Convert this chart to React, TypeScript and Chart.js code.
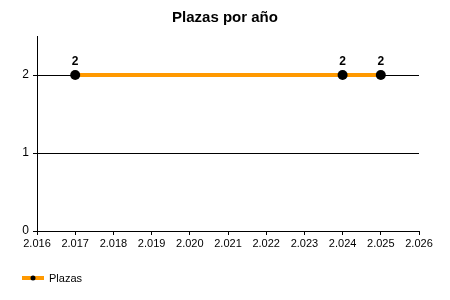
import React, { useEffect, useRef } from "react";
import { Chart, registerables } from "chart.js";

Chart.register(...registerables);

const title = "Plazas por año";
const seriesName = "Plazas";
const years = [2017, 2024, 2025];
const plazas = [2, 2, 2];
const xMin = 2016;
const xMax = 2026;
const yMax = 2.5;
const yTicks = [0, 1, 2];

const FONT = "'Liberation Sans', Arial, sans-serif";
const ORANGE = "#FF9900";

const overlayPlugin = {
  id: "overlay",
  afterDatasetsDraw(chart: any) {
    const ctx = chart.ctx;
    const meta = chart.getDatasetMeta(0);
    ctx.save();
    ctx.fillStyle = "#000";
    ctx.font = `bold 12px ${FONT}`;
    ctx.textAlign = "center";
    ctx.textBaseline = "alphabetic";
    meta.data.forEach((pt: any, i: number) => {
      ctx.fillText(String(chart.data.datasets[0].data[i].y), pt.x, pt.y - 10);
    });
    ctx.restore();
  },
  afterDraw(chart: any) {
    const ctx = chart.ctx;
    ctx.save();
    // title
    ctx.fillStyle = "#000";
    ctx.font = `bold 15px ${FONT}`;
    ctx.textAlign = "center";
    ctx.textBaseline = "middle";
    ctx.fillText(title, 225, 18);
    // legend
    const ly = 278;
    ctx.strokeStyle = ORANGE;
    ctx.lineWidth = 4;
    ctx.beginPath();
    ctx.moveTo(22, ly);
    ctx.lineTo(44, ly);
    ctx.stroke();
    ctx.fillStyle = "#000";
    ctx.beginPath();
    ctx.arc(33, ly, 2.5, 0, Math.PI * 2);
    ctx.fill();
    ctx.font = `11px ${FONT}`;
    ctx.textAlign = "left";
    ctx.fillText(chart.data.datasets[0].label, 49, ly + 1);
    ctx.restore();
  },
};

export default function App() {
  const ref = useRef<HTMLCanvasElement>(null);
  useEffect(() => {
    document.body.style.margin = "0";
    const chart = new Chart(ref.current!, {
      type: "line",
      data: {
        datasets: [
          {
            label: seriesName,
            data: years.map((x, i) => ({ x, y: plazas[i] })),
            borderColor: ORANGE,
            borderWidth: 4,
            backgroundColor: "#000",
            pointBackgroundColor: "#000",
            pointBorderColor: "#000",
            pointRadius: 5,
            pointBorderWidth: 0,
            tension: 0,
          },
        ],
      },
      options: {
        responsive: false,
        animation: false,
        layout: { padding: { left: 0, top: 36, right: 31, bottom: 0 } },
        plugins: {
          legend: { display: false },
          title: { display: false },
          tooltip: { enabled: false },
        },
        scales: {
          x: {
            type: "linear",
            min: xMin,
            max: xMax,
            afterFit: (s: any) => {
              s.height = 69;
            },
            ticks: {
              stepSize: 1,
              autoSkip: false,
              maxRotation: 0,
              padding: 2,
              color: "#000",
              font: { family: FONT, size: 11 },
              callback: (v: any) => {
                const n = Number(v);
                return Math.floor(n / 1000) + "." + String(n % 1000).padStart(3, "0");
              },
            },
            grid: {
              drawOnChartArea: false,
              drawTicks: true,
              tickLength: 4,
              color: "#000",
            },
            border: { display: true, color: "#000", width: 1 },
          },
          y: {
            type: "linear",
            min: 0,
            max: yMax,
            afterFit: (s: any) => {
              s.width = 37;
            },
            afterBuildTicks: (s: any) => {
              s.ticks = yTicks.map((v) => ({ value: v }));
            },
            ticks: {
              padding: 4,
              color: "#000",
              font: { family: FONT, size: 12 },
              callback: (v: any) => String(v),
            },
            grid: {
              drawOnChartArea: true,
              drawTicks: true,
              tickLength: 4,
              color: "#000",
            },
            border: { display: true, color: "#000", width: 1 },
          },
        },
      },
      plugins: [overlayPlugin],
    });
    return () => chart.destroy();
  }, []);
  return (
    <div style={{ width: 450, height: 300 }}>
      <canvas ref={ref} width={450} height={300} />
    </div>
  );
}
